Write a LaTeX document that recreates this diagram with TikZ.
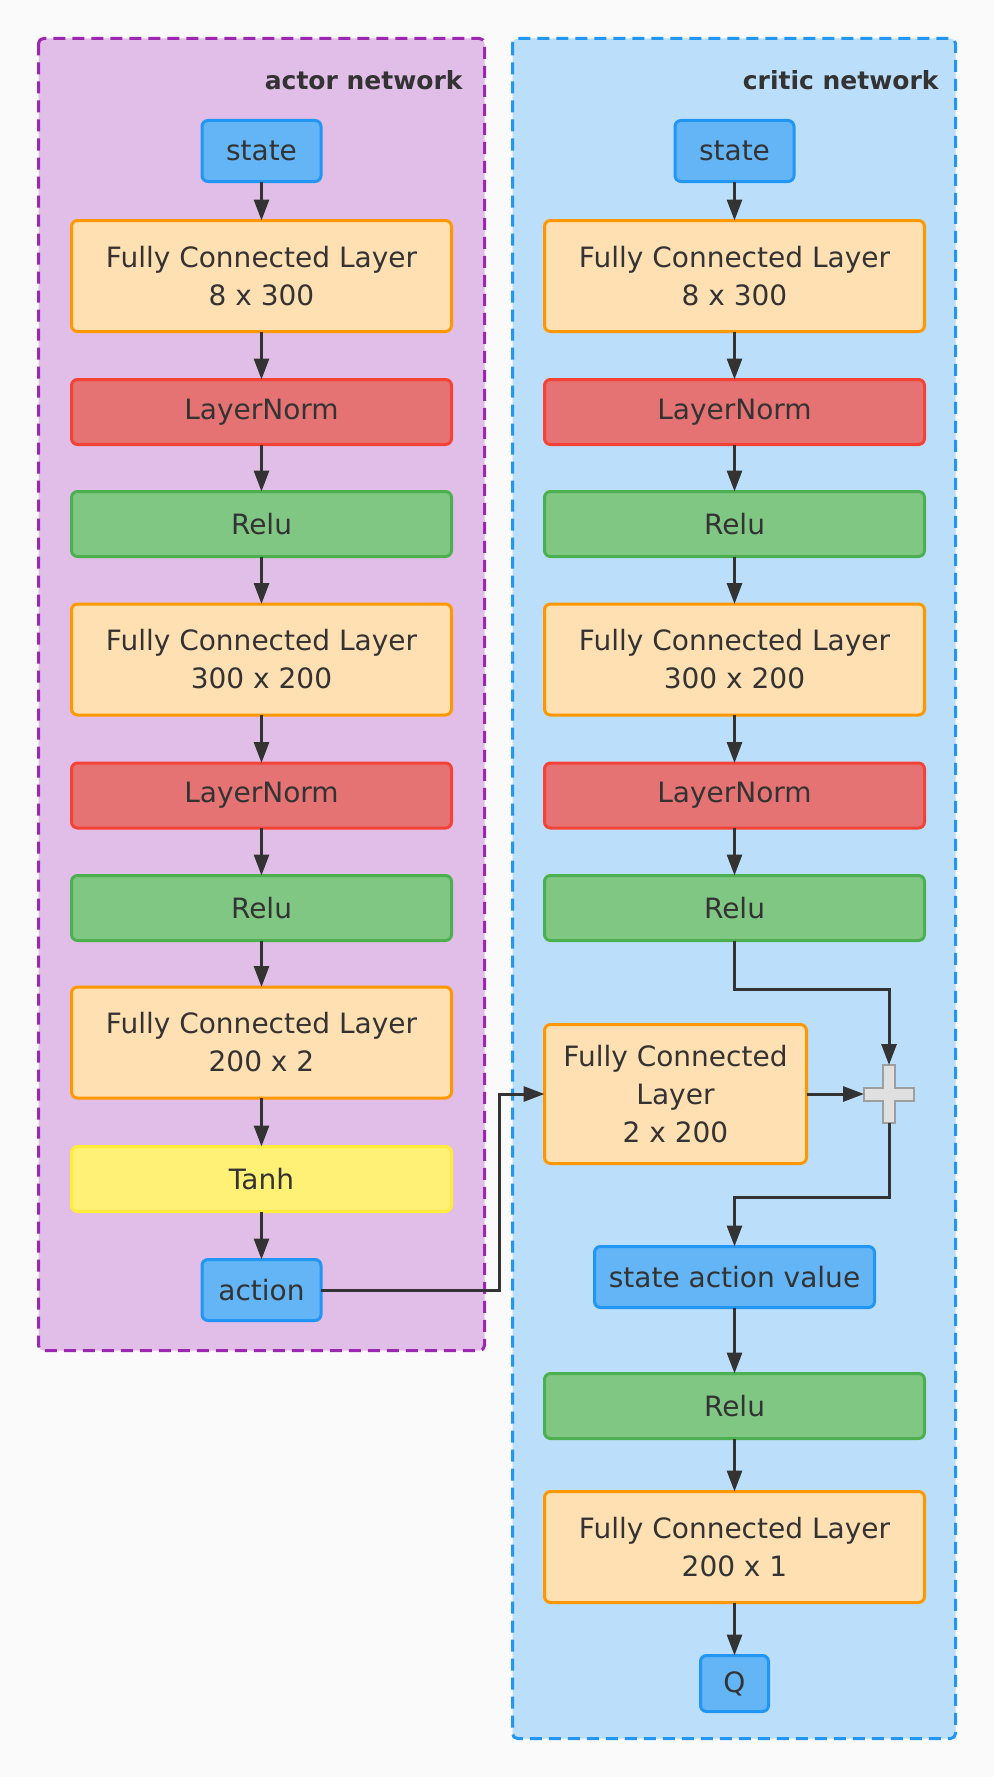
\documentclass[tikz,border=0pt]{standalone}
\usepackage{fontspec}
\setmainfont{DejaVu Sans}
\usetikzlibrary{arrows.meta}
\definecolor{bg}{HTML}{FAFAFA}
\definecolor{txt}{HTML}{333333}
\definecolor{actfill}{HTML}{E1BEE7}
\definecolor{actdraw}{HTML}{9C27B0}
\definecolor{crifill}{HTML}{BBDEFB}
\definecolor{cridraw}{HTML}{2196F3}
\definecolor{iofill}{HTML}{64B5F6}
\definecolor{iodraw}{HTML}{2196F3}
\definecolor{fcfill}{HTML}{FFE0B2}
\definecolor{fcdraw}{HTML}{FF9800}
\definecolor{lnfill}{HTML}{E57373}
\definecolor{lndraw}{HTML}{F44336}
\definecolor{rlfill}{HTML}{81C784}
\definecolor{rldraw}{HTML}{4CAF50}
\definecolor{thfill}{HTML}{FFF176}
\definecolor{thdraw}{HTML}{FFEB3B}
\definecolor{plfill}{HTML}{E0E0E0}
\definecolor{pldraw}{HTML}{9E9E9E}
\begin{document}
\begin{tikzpicture}[x=0.5pt,y=-0.5pt,
  box/.style={draw, line width=1.5pt, rounded corners=3pt, align=center,
    inner sep=0pt, outer sep=0pt, text=txt, font=\fontsize{14}{19}\selectfont},
  fcbox/.style={box, fill=fcfill, draw=fcdraw, minimum width=190pt, minimum height=55.5pt},
  lnbox/.style={box, fill=lnfill, draw=lndraw, minimum width=190pt, minimum height=32.5pt},
  rlbox/.style={box, fill=rlfill, draw=rldraw, minimum width=190pt, minimum height=32.5pt},
  thbox/.style={box, fill=thfill, draw=thdraw, minimum width=190pt, minimum height=32.5pt},
  iobox/.style={box, fill=iofill, draw=iodraw, minimum width=59.5pt, minimum height=30.5pt},
  container/.style={line width=1.5pt, dash pattern=on 6pt off 3.5pt, rounded corners=2.5pt},
  title/.style={anchor=base east, text=txt, font=\fontsize{12.5}{15}\selectfont\bfseries, inner sep=0pt},
  conn/.style={draw=txt, line width=1.5pt, -{Triangle[length=10.5pt,width=7.5pt]}}
]
\useasboundingbox (0,0) rectangle (994,1777);
\fill[bg] (0,0) rectangle (994,1777);

% containers
\draw[container, fill=actfill, draw=actdraw] (38.5,38.5) rectangle (484.5,1350.5);
\draw[container, fill=crifill, draw=cridraw] (512.5,38.5) rectangle (955.5,1738.5);
\node[title] (tact) at (463,90) {actor network};
\node[title] (tcri) at (939,90) {critic network};

% actor network
\node[iobox] (a0) at (261.5,151) {state};
\node[fcbox] (a1) at (261.5,276) {Fully Connected Layer\\8 x 300};
\node[lnbox] (a2) at (261.5,412) {LayerNorm};
\node[rlbox] (a3) at (261.5,524) {Relu};
\node[fcbox] (a4) at (261.5,659.5) {Fully Connected Layer\\300 x 200};
\node[lnbox] (a5) at (261.5,795.5) {LayerNorm};
\node[rlbox] (a6) at (261.5,908) {Relu};
\node[fcbox] (a7) at (261.5,1042.5) {Fully Connected Layer\\200 x 2};
\node[thbox] (a8) at (261.5,1179) {Tanh};
\node[iobox] (a9) at (261.5,1290) {action};

% critic network
\node[iobox] (c0) at (734.5,151) {state};
\node[fcbox] (c1) at (734.5,276) {Fully Connected Layer\\8 x 300};
\node[lnbox] (c2) at (734.5,412) {LayerNorm};
\node[rlbox] (c3) at (734.5,524) {Relu};
\node[fcbox] (c4) at (734.5,659.5) {Fully Connected Layer\\300 x 200};
\node[lnbox] (c5) at (734.5,795.5) {LayerNorm};
\node[rlbox] (c6) at (734.5,908) {Relu};
\node[fcbox, minimum width=131pt, minimum height=69.5pt] (cf) at (675.5,1094) {Fully Connected\\Layer\\2 x 200};
\node[inner sep=0pt, outer sep=0pt, minimum width=25pt, minimum height=29pt] (plus) at (889,1094) {};
\draw[line width=1pt, fill=plfill, draw=pldraw]
  (plus.center) ++(-25,-6.5) -- ++(19,0) -- ++(0,-22.5) -- ++(12,0) -- ++(0,22.5)
  -- ++(19,0) -- ++(0,13) -- ++(-19,0) -- ++(0,22.5) -- ++(-12,0) -- ++(0,-22.5)
  -- ++(-19,0) -- cycle;
\node[iobox, minimum width=140pt] (sav) at (734.5,1277) {state action value};
\node[rlbox] (c7) at (734.5,1406) {Relu};
\node[fcbox] (c8) at (734.5,1547) {Fully Connected Layer\\200 x 1};
\node[iobox, minimum width=34pt, minimum height=28pt] (q) at (734.5,1683.5) {Q};

% connectors actor
\foreach \s/\t in {a0/a1,a1/a2,a2/a3,a3/a4,a4/a5,a5/a6,a6/a7,a7/a8,a8/a9}
  \draw[conn] (\s.south) -- (\t.north);
% connectors critic
\foreach \s/\t in {c0/c1,c1/c2,c2/c3,c3/c4,c4/c5,c5/c6,sav/c7,c7/c8,c8/q}
  \draw[conn] (\s.south) -- (\t.north);

\coordinate (k1) at (889,989);
\coordinate (k2) at (499,1200);
\coordinate (k3) at (800,1197);
\draw[conn] (c6.south) |- (k1) -- (plus.north);
\draw[conn] (a9.east) -| (k2) |- (cf.west);
\draw[conn] (cf.east) -- (plus.west);
\draw[conn] (plus.south) |- (k3) -| (sav.north);
\end{tikzpicture}
\end{document}
